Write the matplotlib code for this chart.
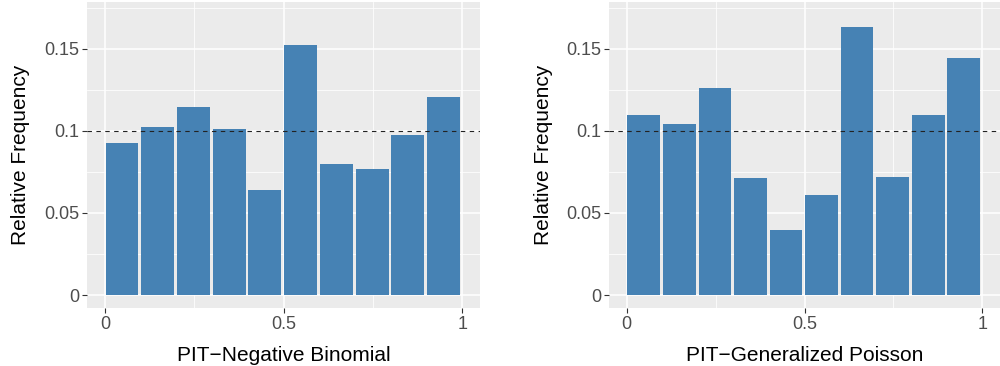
import matplotlib
matplotlib.use('Agg')
import matplotlib.pyplot as plt
import numpy as np

plt.rcParams['font.family'] = ['Liberation Sans', 'DejaVu Sans']

# PIT bins (centres) and relative frequencies
bin_centres = [0.05, 0.15, 0.25, 0.35, 0.45, 0.55, 0.65, 0.75, 0.85, 0.95]
nb_freq = [0.0927, 0.1024, 0.1146, 0.1012, 0.0640, 0.1524, 0.0799, 0.0768, 0.0976, 0.1207]
gp_freq = [0.1098, 0.1043, 0.1262, 0.0713, 0.0396, 0.0610, 0.1634, 0.0720, 0.1098, 0.1445]
x_labels = ['PIT\u2212Negative Binomial', 'PIT\u2212Generalized Poisson']
x_ticks = [0, 0.5, 1]
x_ticklabels = ['0', '0.5', '1']
y_ticks = [0, 0.05, 0.1, 0.15]
y_ticklabels = ['0', '0.05', '0.1', '0.15']

fig = plt.figure(figsize=(10, 3.66), dpi=100)
W, H = 1000, 366
boxes = [(87, 2, 480, 308), (609, 2, 1000, 308)]


def panel(ax, freq, xlabel):
    ax.set_facecolor('#EBEBEB')
    for s in ax.spines.values():
        s.set_visible(False)
    for v in [0.25, 0.75]:
        ax.axvline(v, color='white', lw=0.55, zorder=0)
    for v in [0.025, 0.075, 0.125, 0.175]:
        ax.axhline(v, color='white', lw=0.55, zorder=0)
    for v in x_ticks:
        ax.axvline(v, color='white', lw=1.1, zorder=0)
    for v in y_ticks:
        ax.axhline(v, color='white', lw=1.1, zorder=0)
    ax.bar(np.array(bin_centres) - 0.002, freq, width=0.092,
           color='#4682B4', linewidth=0, zorder=2)
    ax.axhline(0.1, color='#222222', lw=0.8, ls=(0, (4, 4)), zorder=3)
    ax.set_xlim(-0.05, 1.05)
    ax.set_ylim(-0.0079, 0.1785)
    ax.set_xticks(x_ticks)
    ax.set_xticklabels(x_ticklabels)
    ax.set_yticks(y_ticks)
    ax.set_yticklabels(y_ticklabels)
    ax.tick_params(colors='#333333', labelcolor='#4D4D4D', labelsize=13,
                   length=3.5, width=0.8, pad=2)
    ax.set_xlabel(xlabel, fontsize=15, color='black')
    ax.set_ylabel('Relative Frequency', fontsize=15, color='black')
    ax.xaxis.set_label_coords(0.5, -0.155)
    ax.xaxis.label.set_va('center')
    ax.yaxis.set_label_coords(-0.168, 0.5)
    ax.yaxis.label.set_va('center')


for (x0, y0, x1, y1), freq, lab in zip(boxes, [nb_freq, gp_freq], x_labels):
    ax = fig.add_axes([x0 / W, 1 - y1 / H, (x1 - x0) / W, (y1 - y0) / H])
    panel(ax, freq, lab)

fig.savefig('out.png', dpi=100)
